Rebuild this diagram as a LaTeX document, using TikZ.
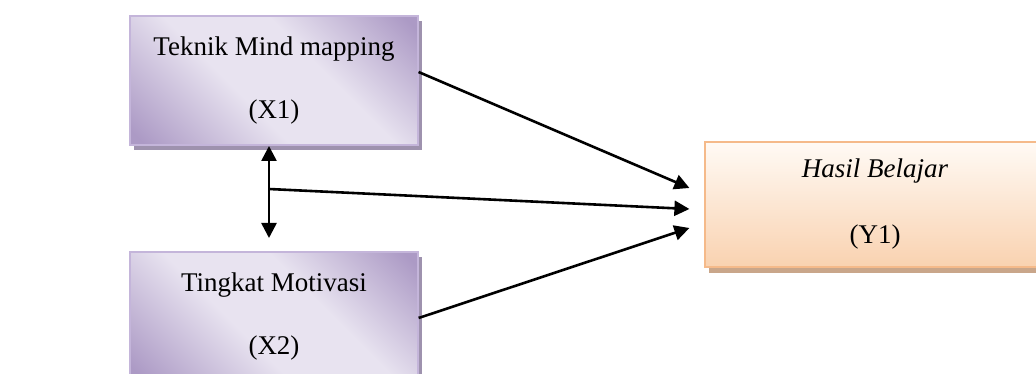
\documentclass[tikz,border=0pt]{standalone}
\usepackage{fontspec}
\setmainfont{Liberation Serif}
\usetikzlibrary{arrows.meta,shadows,calc}
\definecolor{pdark}{HTML}{AC9AC5}
\definecolor{plight}{HTML}{E8E3F0}
\definecolor{pborder}{HTML}{C4B5DA}
\definecolor{pshadow}{HTML}{9E92AE}
\definecolor{otop}{HTML}{FFFAF5}
\definecolor{obot}{HTML}{F9D2B0}
\definecolor{oborder}{HTML}{F5BA8A}
\definecolor{oshadow}{HTML}{C9A68A}
\pgfdeclarehorizontalshading{purpshade}{100bp}{color(0bp)=(pdark); color(17bp)=(pdark); color(42bp)=(plight); color(60bp)=(plight); color(83bp)=(pdark); color(100bp)=(pdark)}
\tikzset{
  pbox/.style={draw=pborder, line width=1.2pt, shade, shading=purpshade, shading angle=45,
    minimum width=288, minimum height=129, inner sep=0pt, align=center,
    font=\fontsize{27}{63}\selectfont,
    drop shadow={shadow xshift=4pt, shadow yshift=-5pt, fill=pshadow, opacity=1}},
  obox/.style={draw=oborder, line width=1.2pt, top color=otop, bottom color=obot,
    minimum width=340, minimum height=125, inner sep=0pt, align=center,
    font=\fontsize{27}{66}\selectfont,
    drop shadow={shadow xshift=4pt, shadow yshift=-6pt, fill=oshadow, opacity=1}},
  conn/.style={line width=2.6pt, -{Triangle[length=15pt,width=15pt]}},
  dconn/.style={line width=2.6pt, {Triangle[length=15pt,width=15pt]}-{Triangle[length=15pt,width=15pt]}}
}
\begin{document}
\begin{tikzpicture}[x=1pt,y=-1pt]
\useasboundingbox (0,0) rectangle (1036,374);
\clip (0,0) rectangle (1036,374);
\node[pbox] (X1) at (274,80.5) {Teknik Mind mapping\\(X1)};
\node[pbox] (X2) at (274,316.5) {Tingkat Motivasi\\(X2)};
\node[obox] (Y1) at (875,204.5) {\textit{Hasil Belajar}\\(Y1)};
\coordinate (vt) at (269,146);
\coordinate (vb) at (269,238);
\coordinate (vm) at (269,189);
\coordinate (t1) at ($(Y1.west)+(-15,-16.5)$);
\coordinate (t2) at ($(Y1.west)+(-15,4.5)$);
\coordinate (t3) at ($(Y1.west)+(-15,23.5)$);
\draw[conn] ($(X1.east)+(0,-8.5)$) -- (t1);
\draw[conn] (vm) -- (t2);
\draw[conn] ($(X2.east)+(0,1.5)$) -- (t3);
\draw[dconn] (vt) -- (vb);
\end{tikzpicture}
\end{document}
